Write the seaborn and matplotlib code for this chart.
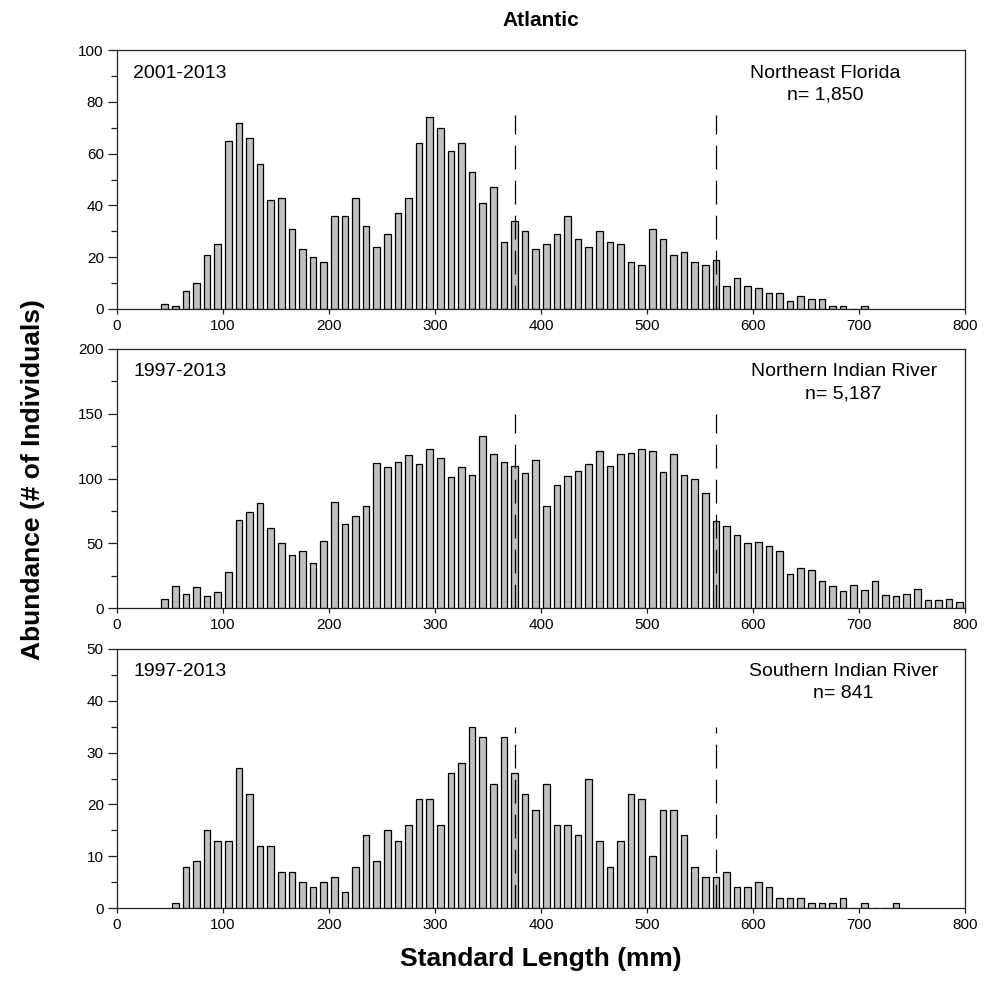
import numpy as np
import pandas as pd
import matplotlib
matplotlib.use("Agg")
import matplotlib.pyplot as plt
from matplotlib.ticker import MultipleLocator
import seaborn as sns

sns.set_theme(style="white")
plt.rcParams['font.family'] = ['Liberation Sans', 'DejaVu Sans']
plt.rcParams['text.color'] = 'black'
plt.rcParams['xtick.color'] = 'black'
plt.rcParams['ytick.color'] = 'black'

# ---------------- data ----------------
ne_florida_start = 45
ne_florida_counts = [2, 1, 7, 10, 21, 25,
                     65, 72, 66, 56, 42, 43, 31, 23, 20, 18,
                     36, 36, 43, 32, 24, 29, 37, 43,
                     64, 74, 70, 61, 64, 53, 41, 47, 26,
                     34, 30, 23, 25, 29, 36, 27, 24, 30, 26, 25, 18, 17, 31, 27, 21, 22, 18,
                     17, 19, 9, 12, 9, 8, 6, 6, 3, 5, 4, 4, 1, 1, 0, 1]

n_indian_start = 45
n_indian_counts = [7, 17, 11, 16, 9, 12, 28,
                   68, 74, 81, 62, 50, 41, 44, 35, 52,
                   82, 65, 71, 79, 112, 109, 113, 118,
                   111, 123, 116, 101, 109, 103, 133, 119, 113,
                   110, 104, 114, 79, 95, 102, 106, 111, 121,
                   110, 119, 120, 123, 121, 105, 119, 103, 100,
                   89, 67, 63, 56, 50, 51, 48, 44, 26,
                   31, 29, 21, 17, 13, 18, 14, 21, 10,
                   9, 11, 15, 6, 6, 7, 5]

s_indian_start = 55
s_indian_counts = [1, 8, 9, 15, 13, 13,
                   27, 22, 12, 12, 7, 7, 5, 4, 5,
                   6, 3, 8, 14, 9, 15, 13, 16,
                   21, 21, 16, 26, 28, 35, 33, 24, 33,
                   26, 22, 19, 24, 16, 16, 14, 25, 13,
                   8, 13, 22, 21, 10, 19, 19, 14, 8,
                   6, 6, 7, 4, 4, 5, 4, 2, 2,
                   2, 1, 1, 1, 2, 0, 1, 0, 0, 1]

bin_width = 10
panel_years = ["2001-2013", "1997-2013", "1997-2013"]
panel_regions = ["Northeast Florida", "Northern Indian River", "Southern Indian River"]
panel_n = ["n= 1,850", "n= 5,187", "n= 841"]
panel_ymax = [100, 200, 50]
panel_ymajor = [20, 50, 10]
panel_dash_top = [75, 150, 35]
dash_x = [375, 565]
x_ticks = [0, 100, 200, 300, 400, 500, 600, 700, 800]

series = [(ne_florida_start, ne_florida_counts),
          (n_indian_start, n_indian_counts),
          (s_indian_start, s_indian_counts)]

# ---------------- figure ----------------
W, H = 984, 983
fig = plt.figure(figsize=(W / 100, H / 100), dpi=100)

# axes pixel boxes (top, bottom)
boxes = [(50, 309), (349, 608), (649, 908)]
left_px, right_px = 117, 965
label_x = [0.835, 0.857, 0.857]

spine_col = "#202020"
for i, ((top, bot), (start, counts)) in enumerate(zip(boxes, series)):
    ax = fig.add_axes([left_px / W, 1 - bot / H, (right_px - left_px) / W, (bot - top) / H])
    lengths = start + bin_width * np.arange(len(counts))
    df = pd.DataFrame({"length": lengths.astype(float), "count": np.asarray(counts, float)})
    sns.histplot(data=df, x="length", weights="count", binwidth=bin_width,
                 binrange=(start - bin_width / 2, lengths[-1] + bin_width / 2),
                 shrink=0.64, color="#c0c0c0", edgecolor="black", linewidth=0.9,
                 alpha=1.0, ax=ax, zorder=2)
    ax.vlines(dash_x, 0, panel_dash_top[i], colors="black", linewidth=0.9,
              linestyles=(0, (19, 9)), zorder=3)
    ax.set_xlim(0, 800)
    ax.set_ylim(0, panel_ymax[i])
    ax.set_xticks(x_ticks)
    ax.yaxis.set_major_locator(MultipleLocator(panel_ymajor[i]))
    ax.yaxis.set_minor_locator(MultipleLocator(panel_ymajor[i] / 2))
    ax.tick_params(axis="y", which="major", direction="out", length=6.5, width=0.9,
                   color=spine_col, labelsize=11, pad=3, left=True)
    ax.tick_params(axis="y", which="minor", direction="out", length=4.3, width=0.9,
                   color=spine_col, left=True)
    ax.tick_params(axis="x", which="major", direction="out", length=3.5, width=0.9,
                   color=spine_col, labelsize=11, pad=4, bottom=True)
    for sp in ax.spines.values():
        sp.set_color(spine_col)
        sp.set_linewidth(0.9)
    ax.set_xlabel("")
    ax.set_ylabel("")
    ax.grid(False)
    h = bot - top
    ax.text(0.019, 1 - 23 / h, panel_years[i], transform=ax.transAxes, fontsize=14,
            ha="left", va="center")
    ax.text(label_x[i], 1 - 23 / h, panel_regions[i], transform=ax.transAxes, fontsize=14,
            ha="center", va="center")
    ax.text(label_x[i], 1 - 45 / h, panel_n[i], transform=ax.transAxes, fontsize=14,
            ha="center", va="center")

fig.text(541 / W, 1 - 20 / H, "Atlantic", ha="center", va="center",
         fontsize=15, fontweight="bold")
fig.text(33 / W, 1 - 480 / H, "Abundance (# of Individuals)", ha="center", va="center",
         rotation=90, fontsize=19, fontweight="bold")
fig.text(541 / W, 1 - 959 / H, "Standard Length (mm)", ha="center", va="center",
         fontsize=19, fontweight="bold")

fig.savefig("out.png", dpi=100)
